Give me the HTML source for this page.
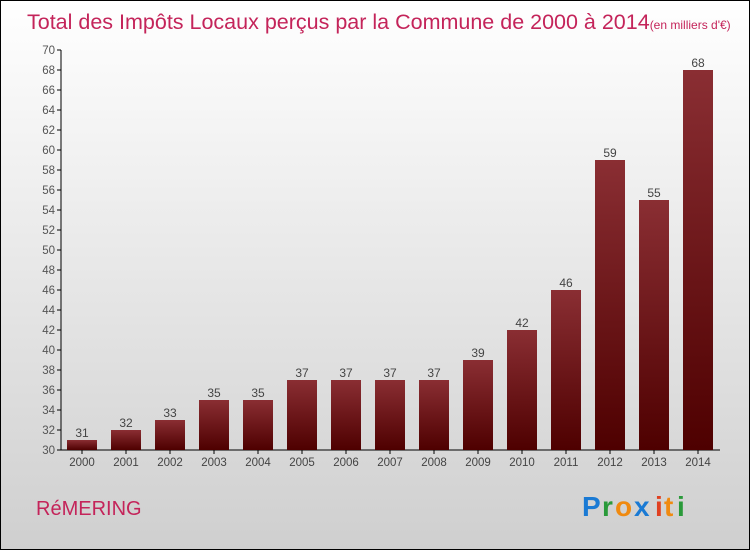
<!DOCTYPE html>
<html><head><meta charset="utf-8"><style>
body{margin:0}
#c{width:750px;height:550px;position:relative;overflow:hidden}
text{font-family:"Liberation Sans",sans-serif}
</style></head><body>
<div id="c">
<svg id="s" width="750" height="550" xmlns="http://www.w3.org/2000/svg">
<defs>
<linearGradient id="bg" x1="0" y1="0" x2="0" y2="1"><stop offset="0" stop-color="#ffffff"/><stop offset="1" stop-color="#cfcfcf"/></linearGradient>
<linearGradient id="bar" x1="0" y1="0" x2="0" y2="1"><stop offset="0" stop-color="#8a2e33"/><stop offset="1" stop-color="#4e0000"/></linearGradient>
</defs>
<rect x="0.5" y="0.5" width="749" height="549" fill="url(#bg)" stroke="#000"/>
<text x="27" y="29" font-size="21.5" fill="#c4245a">Total des Impôts Locaux perçus par la Commune de 2000 à 2014<tspan font-size="12">(en milliers d'€)</tspan></text>
<g id="axes"></g>
<g id="bars"></g>
<text x="36" y="515" font-size="20" fill="#c4245a">RéMERING</text>
<g font-size="28" font-weight="bold">
<text x="582" y="516" fill="#1a7ad4">P</text><text x="602" y="516" fill="#2a9a3a">r</text><text x="615" y="516" fill="#f08a10">o</text><text x="634" y="516" fill="#1a7ad4">x</text><text x="655" y="516" fill="#e04020">i</text><text x="664" y="516" fill="#f08a10">t</text><text x="677" y="516" fill="#2a9a3a">i</text>
</g>
</svg>
</div>
<script>
const years=["2000","2001","2002","2003","2004","2005","2006","2007","2008","2009","2010","2011","2012","2013","2014"];
const values=[31,32,33,35,35,37,37,37,37,39,42,46,59,55,68];
const yMin=30,yMax=70;
const NS="http://www.w3.org/2000/svg";
function y(v){return 450-(v-yMin)*10;}
function x(i){return 82+i*44;}
function mk(t,a,p){const e=document.createElementNS(NS,t);for(const k in a)e.setAttribute(k,a[k]);p.appendChild(e);return e;}
const ax=document.getElementById('axes'),bg=document.getElementById('bars');
const yl=mk('line',{x1:61,y1:50,x2:61,y2:450,stroke:'#000'},ax);


const xl=mk('line',{x1:61,y1:450,x2:720,y2:450,stroke:'#000'},ax);


for(let v=yMin;v<=yMax;v+=2){
 mk('line',{x1:57,y1:y(v),x2:61,y2:y(v),stroke:'#000'},ax);
 const t=mk('text',{x:55,y:y(v)+4,'font-size':11.5,fill:'#555','text-anchor':'end'},ax);
 t.textContent=v;
 
 
}
values.forEach((v,i)=>{
 const r=mk('rect',{x:x(i)-15,y:y(v),width:30,height:450-y(v),fill:'url(#bar)'},bg);
 
 
 const l=mk('text',{x:x(i),y:y(v)-3,'font-size':12,fill:'#444','text-anchor':'middle'},bg);
 l.textContent=v;
 
 
 mk('line',{x1:x(i),y1:450,x2:x(i),y2:454,stroke:'#000'},ax);
 const t=mk('text',{x:x(i),y:466,'font-size':11.5,fill:'#444','text-anchor':'middle'},ax);
 t.textContent=years[i];
 
 
});
</script>
</body></html>
